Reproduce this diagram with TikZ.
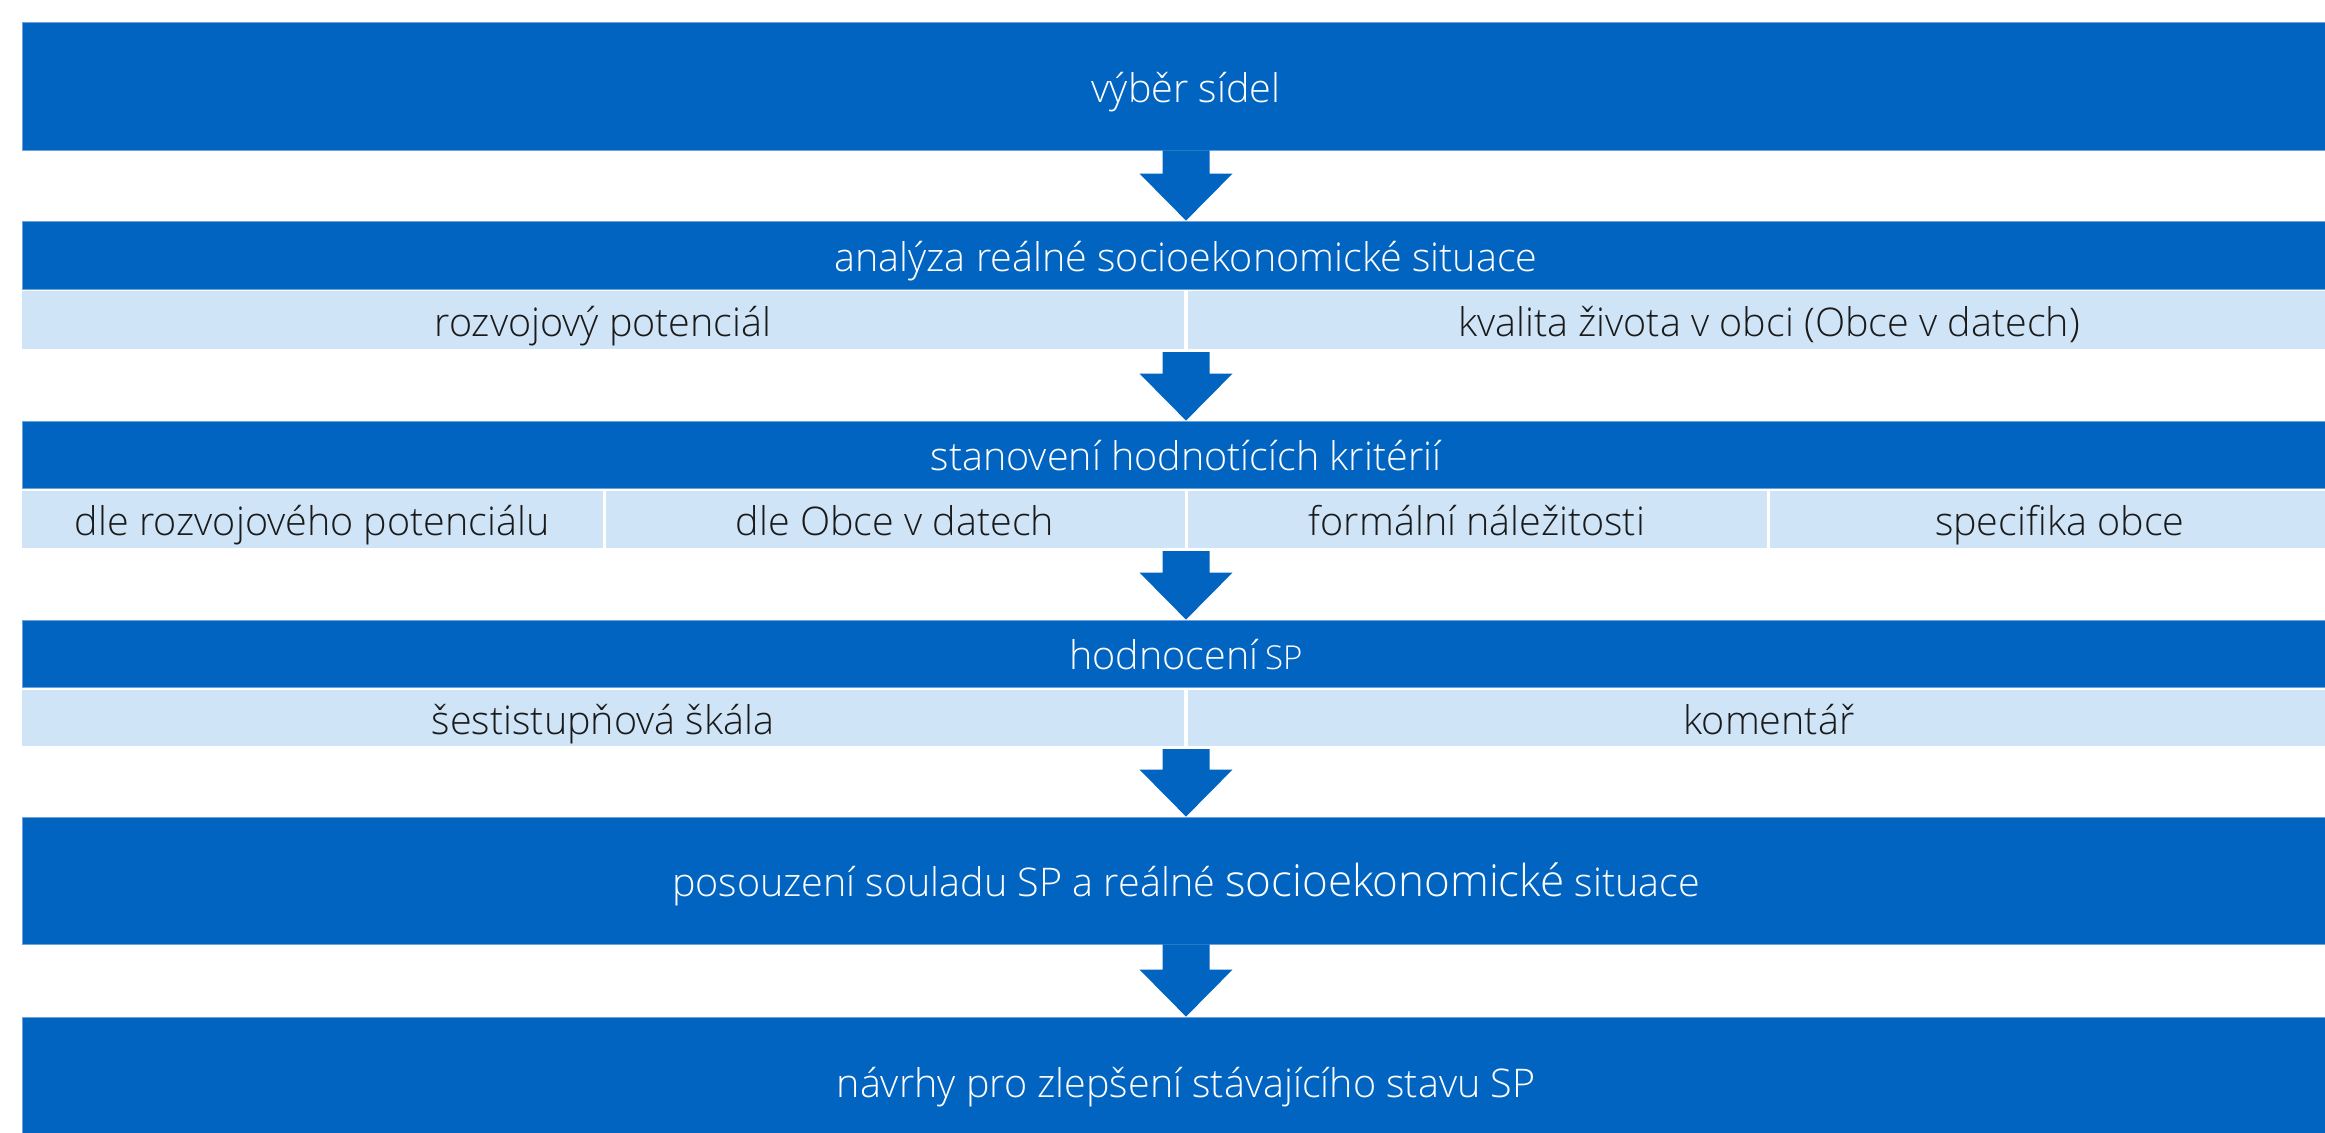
\documentclass[tikz,border=0pt]{standalone}
\usepackage{fontspec}
\IfFontExistsTF{Open Sans Light}{\setmainfont{Open Sans Light}}{\setmainfont{Open Sans}}
\usetikzlibrary{calc}
\definecolor{dkblue}{HTML}{0064C0}
\definecolor{ltblue}{HTML}{CFE4F7}
\definecolor{edgeblue}{HTML}{6CA3DC}
\definecolor{txtdark}{HTML}{1A1A1A}
\newcommand{\fatarr}[2]{%
  \fill[dkblue] let \p1=(#1), \p2=(#2) in
    (\x2-23.5pt,\y1) -- (\x2+23.5pt,\y1) -- (\x2+23.5pt,\y2+47pt) --
    (\x2+46.5pt,\y2+47pt) -- (\x2,\y2) -- (\x2-46.5pt,\y2+47pt) --
    (\x2-23.5pt,\y2+47pt) -- cycle;}
\begin{document}
\begin{tikzpicture}[x=1pt,y=-1pt,
  darkbar/.style={rectangle, fill=dkblue, draw=edgeblue, line width=0.8pt,
    inner sep=0pt, minimum width=2328pt, text=white,
    font=\fontsize{39.5}{43}\selectfont, text height=35pt, text depth=3pt},
  cell/.style={rectangle, fill=ltblue, draw=none, inner sep=0pt,
    text=txtdark, font=\fontsize{39.5}{43}\selectfont, text height=35pt, text depth=3pt}]
\useasboundingbox (0,0) rectangle (2325,1132);
\clip (0,0) rectangle (2325,1132);
\fill[white] (0,0) rectangle (2325,1132);
% bars
\node[darkbar, minimum height=128pt] (b1) at (1186,86) {výběr sídel};
\node[darkbar, minimum height=68pt] (b2) at (1186,255) {analýza reálné socioekonomické situace};
\node[cell, minimum width=1162pt, minimum height=58pt] (r2a) at (603,320) {rozvojový potenciál};
\node[cell, minimum width=1162pt, minimum height=58pt] (r2b) at (1769,320) {kvalita života v obci (Obce v datech)};
\node[darkbar, minimum height=67pt] (b3) at (1186,454.5) {stanovení hodnotících kritérií};
\node[cell, minimum width=580.5pt, minimum height=57pt] (r3a) at (312.25,519.5) {dle rozvojového potenciálu};
\node[cell, minimum width=579pt, minimum height=57pt] (r3b) at (895,519.5) {dle Obce v datech};
\node[cell, minimum width=579pt, minimum height=57pt] (r3c) at (1477,519.5) {formální náležitosti};
\node[cell, minimum width=580.5pt, minimum height=57pt] (r3d) at (2059.75,519.5) {specifika obce};
\node[darkbar, minimum height=67pt] (b4) at (1186,653.5) {hodnocení\,{\fontsize{33}{36}\selectfont SP}};
\node[cell, minimum width=1162pt, minimum height=56pt] (r4a) at (603,718) {šestistupňová škála};
\node[cell, minimum width=1162pt, minimum height=56pt] (r4b) at (1769,718) {komentář};
\node[darkbar, minimum height=127pt] (b5) at (1186,880.5) {posouzení souladu SP a reálné {\fontsize{44}{47}\selectfont socioekonomické} situace};
\node[darkbar, minimum height=128pt] (b6) at (1186,1081) {návrhy pro zlepšení stávajícího stavu SP};
% arrows
\coordinate (a2s) at (1186,352);
\coordinate (a3s) at (1186,551);
\coordinate (a4s) at (1186,749);
\fatarr{b1.south}{b2.north}
\fatarr{a2s}{b3.north}
\fatarr{a3s}{b4.north}
\fatarr{a4s}{b5.north}
\fatarr{b5.south}{b6.north}
\end{tikzpicture}
\end{document}
